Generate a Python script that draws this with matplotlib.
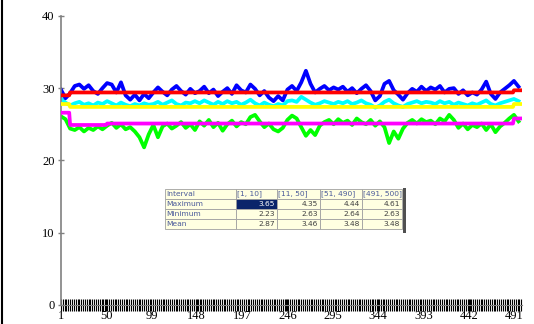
import matplotlib
matplotlib.use("Agg")
import matplotlib.pyplot as plt
from matplotlib.lines import Line2D
from matplotlib.patches import Rectangle
from matplotlib.ticker import MultipleLocator, FixedLocator

# sample positions (every 5th point) of the measured series
sample_idx = list(range(1, 501, 5))

upper_vals = [
    29.8, 28.6, 29.3, 30.3, 30.5, 29.9, 30.4, 29.6, 29.2, 30.0,
    30.7, 30.5, 29.4, 30.8, 29.0, 28.4, 29.1, 28.3, 29.2, 28.6,
    29.4, 30.1, 29.5, 29.0, 29.8, 30.3, 29.6, 29.1, 29.9, 29.3,
    29.6, 30.2, 29.3, 29.8, 28.9, 29.5, 30.0, 29.2, 30.4, 29.7,
    29.4, 30.5, 29.9, 29.0, 29.6, 28.7, 28.2, 28.9, 28.3, 29.8,
    30.3, 29.6, 30.8, 32.4, 30.6, 29.4, 29.9, 30.3, 29.7, 30.1,
    29.8, 30.2, 29.5, 30.0, 29.3, 29.9, 30.4, 29.6, 28.3, 28.9,
    30.6, 31.0, 29.7, 29.1, 28.4, 29.3, 29.9, 29.5, 30.2, 29.6,
    30.1, 29.8, 30.3, 29.4, 29.9, 30.0, 29.2, 29.7, 29.0, 29.4,
    29.1, 29.8, 30.9, 29.2, 28.5, 29.4, 29.9, 30.4, 31.0, 30.2,
]

middle_vals = [
    28.6, 28.0, 27.6, 27.9, 28.1, 27.7, 27.9, 27.6, 28.0, 27.8,
    28.2, 27.9, 27.6, 28.0, 27.7, 27.5, 27.8, 27.6, 27.9, 27.7,
    27.8, 28.1, 27.7, 28.0, 28.3, 27.8, 27.6, 28.0, 27.9, 28.2,
    27.9, 28.3, 28.0, 27.7, 28.1, 27.8, 28.2, 27.9, 28.1, 27.7,
    28.0, 28.4, 27.9, 27.6, 28.0, 27.7, 27.5, 27.8, 27.6, 28.2,
    28.3, 28.1, 28.8, 28.4, 28.0, 27.7, 27.9, 28.2, 28.0, 27.8,
    28.1, 27.9, 28.2, 27.8, 28.0, 28.3, 27.9, 27.7, 27.3, 27.6,
    28.1, 28.4, 27.9, 27.6, 27.4, 27.8, 28.0, 28.2, 27.9, 28.1,
    28.0, 27.8, 28.2, 27.9, 28.1, 27.7, 28.0, 27.8, 27.6, 27.9,
    27.7, 28.0, 28.3, 27.8, 27.6, 27.9, 28.1, 28.3, 28.5, 28.2,
]

lower_vals = [
    26.1, 25.7, 24.4, 24.2, 24.6, 24.0, 24.5, 24.2, 24.7, 24.3,
    24.8, 25.2, 24.5, 25.0, 24.3, 24.6, 24.0, 23.2, 21.8, 23.6,
    24.9, 23.2, 24.7, 25.1, 24.4, 24.8, 25.3, 24.5, 25.0, 24.2,
    25.4, 24.8, 25.6, 24.6, 25.2, 24.1, 25.0, 25.5, 24.7, 25.3,
    25.0, 26.0, 26.3, 25.4, 24.6, 25.1, 24.3, 24.0, 24.5, 25.6,
    26.2, 25.8, 24.6, 23.4, 24.2, 23.5, 24.8, 25.3, 25.6, 25.0,
    25.7, 25.2, 25.5, 24.9, 25.8, 25.3, 25.0, 25.6, 24.8, 25.4,
    24.6, 22.4, 24.0, 23.0, 24.4, 25.2, 25.6, 25.1, 25.7, 25.3,
    25.5, 25.0, 25.8, 25.4, 26.3, 25.6, 24.5, 25.1, 24.3, 24.9,
    24.6, 25.1, 24.2, 25.0, 23.9, 24.7, 25.2, 25.8, 26.3, 25.4,
]

# interval averages
intervals = [(1, 10), (11, 50), (51, 490), (491, 500)]
upper_mean = [29.0, 29.4, 29.4, 29.7]
middle_mean = [27.8, 27.4, 27.4, 27.8]
lower_mean = [26.6, 24.9, 25.1, 25.8]

# statistics table
col_labels = ["Interval", "[1, 10]", "[11, 50]", "[51, 490]", "[491, 500]"]
row_labels = ["Maximum", "Minimum", "Mean"]
stat_max = [3.65, 4.35, 4.44, 4.61]
stat_min = [2.23, 2.63, 2.64, 2.63]
stat_mean = [2.87, 3.46, 3.48, 3.48]

x_labels = [1, 50, 99, 148, 197, 246, 295, 344, 393, 442, 491]


def step_xy(means):
    xs, ys = [], []
    for (a, b), m in zip(intervals, means):
        xs += [a, b]
        ys += [m, m]
    return xs, ys


fig = plt.figure(figsize=(5.34, 3.24), dpi=100)
ax = fig.add_axes([0.114, 0.059, 0.864, 0.892])

lw = 2.7
ax.plot(sample_idx, lower_vals, color="#00ff00", lw=lw, zorder=2)
ax.plot(sample_idx, middle_vals, color="#00ffff", lw=lw, zorder=2)
ax.plot(sample_idx, upper_vals, color="#0000ff", lw=lw, zorder=2)
for means, c in [(lower_mean, "#ff00ff"), (middle_mean, "#ffff00"), (upper_mean, "#ff0000")]:
    xs, ys = step_xy(means)
    ax.plot(xs, ys, color=c, lw=lw, zorder=3)

ax.set_xlim(1, 500)
ax.set_ylim(0, 40)
ax.yaxis.set_major_locator(MultipleLocator(10))
ax.xaxis.set_major_locator(FixedLocator(x_labels))
ax.xaxis.set_minor_locator(FixedLocator(list(range(1, 501, 2))))

for s in ["top", "right"]:
    ax.spines[s].set_visible(False)
ax.spines["left"].set_color("#808080")
ax.spines["left"].set_linewidth(1.2)
ax.spines["bottom"].set_color("#808080")

ax.tick_params(axis="y", direction="inout", length=5, width=1, color="#808080",
               labelsize=9, pad=2)
ax.tick_params(axis="x", which="both", direction="inout", length=8, width=0.8,
               color="black", labelsize=9, pad=0)
for lab in ax.get_xticklabels() + ax.get_yticklabels():
    lab.set_fontfamily("Liberation Serif")

# frame line on the left edge of the window
fig.add_artist(Line2D([0.004, 0.004], [0, 1], color="black", lw=1.5))

# statistics grid
tax = fig.add_axes([0.309, 0.293, 0.444, 0.124])
tax.axis("off")
cells = [[r] + [f"{v:.2f}" for v in vals]
         for r, vals in zip(row_labels, [stat_max, stat_min, stat_mean])]
widths = [71, 41, 43, 42, 40]
tot = sum(widths)
tbl = tax.table(cellText=cells, colLabels=col_labels,
                colWidths=[w / tot for w in widths], bbox=[0, 0, 1, 1])
tbl.auto_set_font_size(False)
for (r, c), cell in tbl.get_celld().items():
    cell.set_facecolor("#ffffe1")
    cell.set_edgecolor("#a0a0a0")
    cell.set_linewidth(0.6)
    txt = cell.get_text()
    txt.set_fontsize(5.4)
    txt.set_fontfamily("DejaVu Sans")
    if r == 0 or c == 0:
        txt.set_color("#4a5a9a")
        cell.set_text_props(ha="left")
        cell.PAD = 0.02
    else:
        txt.set_color("#404040")
        cell.set_text_props(ha="right")
        cell.PAD = 0.06
tbl[1, 1].set_facecolor("#0a246a")
tbl[1, 1].get_text().set_color("white")
fig.add_artist(Rectangle((0.754, 0.281), 0.007, 0.139, transform=fig.transFigure,
                         facecolor="#505050", edgecolor="none"))

fig.savefig("out.png", dpi=100)
